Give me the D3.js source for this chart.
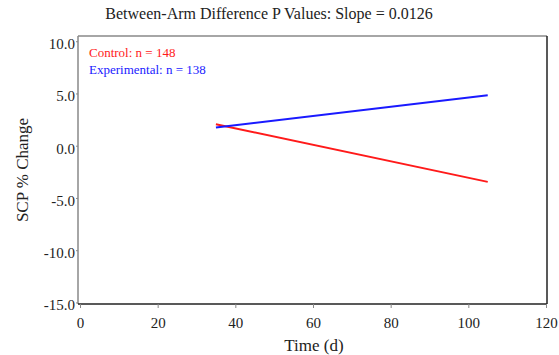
<!DOCTYPE html>
<html>
<head>
    <meta charset="utf-8">
    <script src="https://d3js.org/d3.v7.min.js"></script>
    <style>
        body { margin: 0; background: #fff; }
        svg text { font-family: 'Liberation Serif', 'Times New Roman', serif; }
    </style>
</head>
<body>
<div id="chart"></div>
<script>
    // data
    const armNames = ['Control', 'Experimental'];
    const armCounts = [148, 138];
    const armColors = ['#ff1a1a', '#1a1aff'];
    const timeDays = [35, 105];
    const controlValues = [2.06, -3.46];
    const experimentalValues = [1.74, 4.83];
    const xTicks = [0, 20, 40, 60, 80, 100, 120];
    const yTicks = [-15, -10, -5, 0, 5, 10];

    const width = 559, height = 355;
    const box = { left: 78, right: 547, top: 36, bottom: 304 };

    const svg = d3.select('#chart').append('svg')
        .attr('width', width)
        .attr('height', height);

    const x = d3.scaleLinear().domain([0, 120]).range([80, 546]);
    const y = d3.scaleLinear().domain([-15.15, 10.5]).range([box.bottom, box.top]);

    // title
    svg.append('text')
        .attr('x', 269).attr('y', 19)
        .attr('text-anchor', 'middle')
        .attr('font-size', 16)
        .attr('fill', '#222')
        .text('Between-Arm Difference P Values: Slope = 0.0126');

    // frame
    svg.append('line').attr('x1', box.left).attr('x2', box.right).attr('y1', box.top).attr('y2', box.top)
        .attr('stroke', '#888').attr('stroke-width', 1.5);
    svg.append('line').attr('x1', box.right).attr('x2', box.right).attr('y1', box.top).attr('y2', box.bottom)
        .attr('stroke', '#222').attr('stroke-width', 1.5);
    svg.append('line').attr('x1', box.left).attr('x2', box.left).attr('y1', box.top).attr('y2', box.bottom)
        .attr('stroke', '#888').attr('stroke-width', 1.5);

    const fmtY = d => d3.format('.1f')(d).replace('\u2212', '-');

    // axes
    const xAxis = svg.append('g')
        .attr('transform', `translate(0,${box.bottom})`)
        .call(d3.axisBottom(x).tickValues(xTicks).tickSize(4).tickPadding(9).tickFormat(d3.format('d')));
    xAxis.select('.domain').attr('d', `M${box.left},0H${box.right}`).attr('stroke', '#222').attr('stroke-width', 1.5);
    xAxis.selectAll('.tick line').attr('stroke', '#888');
    xAxis.selectAll('text').attr('font-size', 15).attr('fill', '#222').attr('font-family', "'Liberation Serif', serif");

    const yAxis = svg.append('g')
        .attr('transform', `translate(${box.left},0)`)
        .call(d3.axisLeft(y).tickValues(yTicks).tickSize(2).tickPadding(1).tickFormat(fmtY));
    yAxis.select('.domain').remove();
    yAxis.selectAll('.tick line').attr('stroke', '#888');
    yAxis.selectAll('text').attr('font-size', 15).attr('fill', '#222').attr('dy', '0.5em')
        .attr('font-family', "'Liberation Serif', serif");

    // axis titles
    svg.append('text')
        .attr('x', 314).attr('y', 351)
        .attr('text-anchor', 'middle')
        .attr('font-size', 17)
        .attr('fill', '#222')
        .text('Time (d)');
    svg.append('text')
        .attr('transform', 'translate(28,170) rotate(-90)')
        .attr('text-anchor', 'middle')
        .attr('font-size', 17)
        .attr('fill', '#222')
        .text('SCP % Change');

    // lines
    const series = [controlValues, experimentalValues];
    const line = d3.line().x((d, i) => x(timeDays[i])).y(d => y(d));
    series.forEach((vals, i) => {
        svg.append('path')
            .datum(vals)
            .attr('d', line)
            .attr('fill', 'none')
            .attr('stroke', armColors[i])
            .attr('stroke-width', 2);
    });

    // legend
    armNames.forEach((name, i) => {
        svg.append('text')
            .attr('x', 89).attr('y', 57 + i * 17)
            .attr('font-size', 13)
            .attr('fill', armColors[i])
            .text(`${name}: n = ${armCounts[i]}`);
    });
</script>
</body>
</html>
